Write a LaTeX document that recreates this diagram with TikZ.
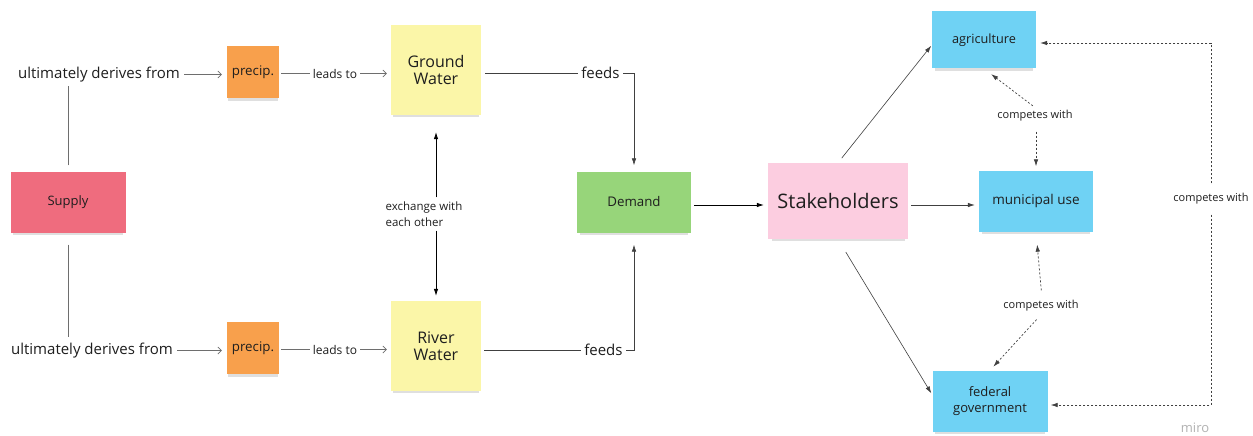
\documentclass[tikz,border=0pt]{standalone}
\usepackage{fontspec}
\setmainfont{Open Sans}
\usetikzlibrary{arrows.meta,shadows}
\definecolor{csupply}{HTML}{EF6C7E}
\definecolor{corange}{HTML}{F8A04C}
\definecolor{cyellow}{HTML}{FBF6A8}
\definecolor{cgreen}{HTML}{97D57A}
\definecolor{cpink}{HTML}{FCCDE0}
\definecolor{ccyan}{HTML}{6FD2F4}
\definecolor{txt}{HTML}{1E1E1E}
\definecolor{lgray}{HTML}{6E6E6E}
\definecolor{dgray}{HTML}{404040}
\newcommand{\fsz}[2]{\fontsize{#1}{#2}\selectfont}
\tikzset{
  note/.style={inner sep=0pt, align=center, text=txt,
    drop shadow={shadow xshift=0pt, shadow yshift=-4pt, opacity=0.25, shadow scale=0.95}},
  plain/.style={inner sep=2pt, text=txt},
  lbl/.style={inner sep=3pt, text=txt, fill=white},
  gline/.style={draw=lgray, line width=0.7pt, -{Straight Barb[length=3.5pt,width=7pt]}},
  nline/.style={draw=lgray, line width=0.7pt},
  barrow/.style={draw=black, line width=0.7pt, -{Latex[length=7pt,width=4.5pt]}},
  darrow/.style={draw=dgray, line width=0.6pt, -{Latex[length=7pt,width=4.5pt]}},
  dasharrow/.style={draw=dgray, line width=0.7pt, dash pattern=on 2pt off 2pt, -{Latex[length=7pt,width=4.5pt]}},
}
\begin{document}
\begin{tikzpicture}[x=1pt,y=-1pt]
\useasboundingbox[fill=white] (0,0) rectangle (1253,436);

% nodes
\node[note, fill=csupply, minimum width=115, minimum height=61, font=\fsz{13}{15}] (supply) at (68,202) {Supply};
\node[plain, font=\fsz{15}{18}] (ud1) at (99,74.5) {ultimately derives from};
\node[plain, font=\fsz{15}{18}] (ud2) at (92,350.5) {ultimately derives from};
\node[note, fill=corange, minimum width=52, minimum height=52, font=\fsz{13.3}{15}] (p1) at (253,72) {precip.};
\node[note, fill=corange, minimum width=52, minimum height=52, font=\fsz{13.3}{15}] (p2) at (253,348) {precip.};
\node[note, fill=cyellow, minimum width=90, minimum height=90, font=\fsz{16}{17}] (gw) at (436,70) {Ground\\Water};
\node[note, fill=cyellow, minimum width=90, minimum height=90, font=\fsz{16}{17}] (rw) at (436,346) {River\\Water};
\node[plain, align=left, font=\fsz{11.5}{16}] (ex) at (424,214) {exchange with\\each other};
\node[note, fill=cgreen, minimum width=114, minimum height=61, font=\fsz{13.3}{15}] (demand) at (634,202) {Demand};
\node[note, fill=cpink, minimum width=140, minimum height=76, font=\fsz{20}{24}] (stake) at (838,201) {Stakeholders};
\node[note, fill=ccyan, minimum width=104, minimum height=57, font=\fsz{12.7}{14}] (agri) at (984,40) {agriculture};
\node[note, fill=ccyan, minimum width=114, minimum height=61, font=\fsz{13.5}{16}] (muni) at (1036,201) {municipal use};
\node[note, fill=ccyan, minimum width=115, minimum height=61, font=\fsz{13}{16}] (fed) at (990,401) {federal\\government};
\node[plain, font=\fsz{11}{13}] (cw1) at (1035,116) {competes with};
\node[plain, font=\fsz{11}{13}] (cw2) at (1041,306) {competes with};
\node[plain, font=\fsz{11}{13}] (cw3) at (1211,199) {competes with};
\node[text=black!30, font=\fsz{13}{15}] (miro) at (1195,428) {miro};

% supply to derivation texts
\draw[nline, shorten <=6pt, shorten >=2pt] (supply.north) -- (supply.north |- ud1.south);
\draw[nline, shorten <=12pt, shorten >=4pt] (supply.south) -- (supply.south |- ud2.north);

% derivation to precip
\draw[gline, shorten <=2pt, shorten >=5pt] (ud1.east) -- (p1.west |- ud1.east);
\draw[gline, shorten <=2pt, shorten >=5pt] (ud2.east) -- (p2.west |- ud2.east);

% precip to water
\draw[gline, shorten <=2pt, shorten >=4pt] ([yshift=-1.5pt]p1.east) -- node[lbl, font=\fsz{12}{14}] {leads to} ([yshift=-1.5pt]gw.west |- p1.east);
\draw[gline, shorten <=2pt, shorten >=4pt] ([yshift=-1.5pt]p2.east) -- node[lbl, font=\fsz{12}{14}] {leads to} ([yshift=-1.5pt]rw.west |- p2.east);

% exchange
\draw[barrow, shorten <=2pt, shorten >=17pt] (ex.north -| gw.south) -- (gw.south);
\draw[barrow, shorten <=2pt, shorten >=5pt] (ex.south -| rw.north) -- (rw.north);

% feeds
\draw[darrow, shorten <=4pt, shorten >=6pt] ([yshift=-3pt]gw.east) -| node[lbl, pos=0.39, font=\fsz{15}{17}] {feeds} (demand.north);
\draw[darrow, shorten <=3pt, shorten >=12pt] ([yshift=-4pt]rw.east) -| node[lbl, pos=0.4, font=\fsz{15}{17}] {feeds} (demand.south);

% demand to stakeholders
\draw[barrow, shorten <=3pt, shorten >=4pt] ([yshift=-3pt]demand.east) -- ([yshift=-3pt]demand.east -| stake.west);

% stakeholders to users
\draw[darrow, shorten <=6pt, shorten >=1pt] (stake.north) -- ([yshift=-5pt]agri.west);
\draw[darrow, shorten <=3pt, shorten >=4pt] ([yshift=-4pt]stake.east) -- ([yshift=-4pt]muni.west);
\draw[darrow, shorten <=15pt, shorten >=2pt] (stake.south) -- ([yshift=6pt]fed.west);

% competes with
\draw[dasharrow, shorten <=4pt, shorten >=9pt] ([xshift=1pt]cw1.north) -- (agri.south);
\draw[dasharrow, shorten <=8pt, shorten >=4pt] (cw1.south -| muni.north) -- (muni.north);
\draw[dasharrow, shorten <=8pt, shorten >=13pt] ([xshift=1pt]cw2.north) -- (muni.south);
\draw[dasharrow, shorten <=8pt, shorten >=5pt] ([xshift=1pt]cw2.south) -- (fed.north);
\draw[dasharrow, shorten <=8pt, shorten >=4pt] (cw3.north) |- ([yshift=-3pt]agri.east);
\draw[dasharrow, shorten <=8pt, shorten >=3pt] (cw3.south) |- ([yshift=-4pt]fed.east);
\end{tikzpicture}
\end{document}
